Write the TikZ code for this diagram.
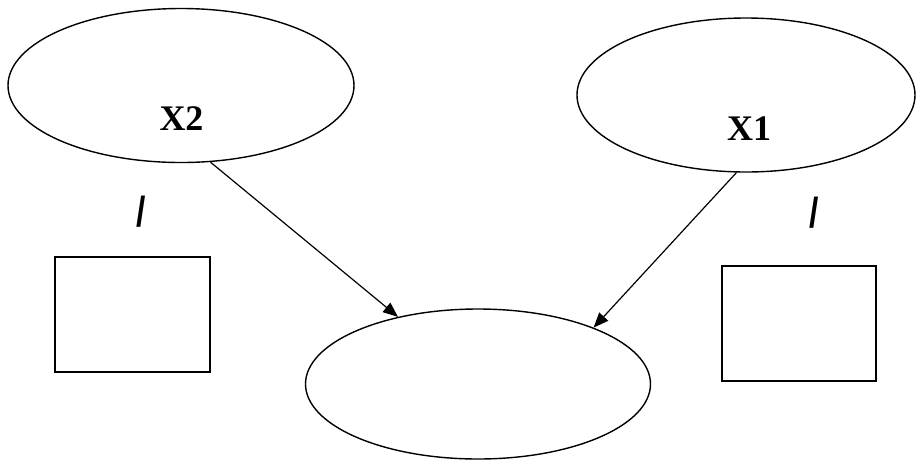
\documentclass[tikz,border=0pt]{standalone}
\usepackage{fontspec}
\setmainfont{Liberation Serif}
\newfontfamily\slashfont{Liberation Sans}
\usetikzlibrary{arrows.meta,positioning,shapes.geometric}
\tikzset{
  varoval/.style={ellipse, draw=black, line width=1.4pt, fill=white,
                  minimum width=#1, minimum height=154pt, inner sep=0pt},
  emptybox/.style={rectangle, draw=black, line width=2pt, fill=white,
                   minimum width=155pt, minimum height=115pt, inner sep=0pt},
  varlabel/.style={font=\fontsize{36}{40}\selectfont\bfseries, anchor=base, inner sep=0pt},
  slashmark/.style={font=\fontsize{42}{46}\selectfont\slashfont\bfseries, inner sep=0pt, xscale=0.8},
  arr/.style={-{Triangle[length=15pt, width=12pt]}, line width=1.2pt, draw=black},
}
\begin{document}
\begin{tikzpicture}[x=1pt, y=-1pt]
  \useasboundingbox (0,0) rectangle (916,459);
  % latent variables and outcome
  \node[varoval=346pt] (x2) at (181,85.5) {};
  \node[varoval=338pt] (x1) at (746,95) {};
  \node[varoval=345pt, minimum height=150pt] (out) at (478,384) {};
  % labels
  \node[varlabel] (x2lab) at (181.5,130) {X2};
  \node[varlabel] (x1lab) at (749,140) {X1};
  % empty boxes
  \node[emptybox] (boxl) at (132.5,314.5) {};
  \node[emptybox, minimum width=154pt] (boxr) at (799,323.5) {};
  % slash marks
  \node[slashmark] (sl) at (141,212) {/};
  \node[slashmark] (sr) at (814,213) {/};
  % arrows
  \draw[arr] (x2.-69) -- (out.140);
  \draw[arr] (x1.-97) -- (out.26);
\end{tikzpicture}
\end{document}
